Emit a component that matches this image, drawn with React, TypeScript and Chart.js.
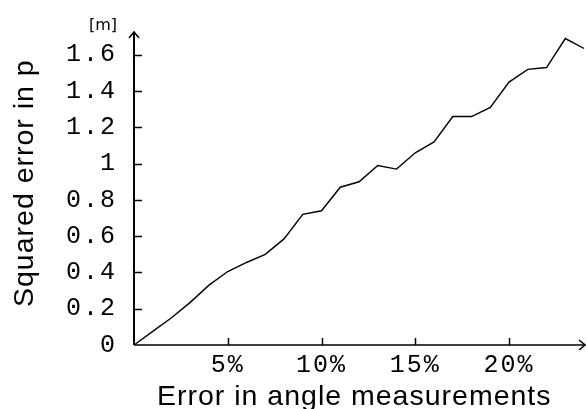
import React, { useEffect, useRef } from "react";
import { Chart, registerables } from "chart.js";

Chart.register(...registerables);

const xValues = [0, 1, 2, 3, 4, 5, 6, 7, 8, 9, 10, 11, 12, 13, 14, 15, 16, 17, 18, 19, 20, 21, 22, 23, 24];
const yValues = [0, 0.075, 0.15, 0.235, 0.33, 0.405, 0.455, 0.5, 0.585, 0.72, 0.74, 0.87, 0.9, 0.99, 0.97, 1.06, 1.12, 1.26, 1.26, 1.31, 1.45, 1.52, 1.53, 1.69, 1.635];
const xTicks = [5, 10, 15, 20];
const yTicks = [0, 0.2, 0.4, 0.6, 0.8, 1, 1.2, 1.4, 1.6];
const xTitle = "Error in angle measurements";
const yTitle = "Squared error in p";
const yUnit = "[m]";

const spacingPlugin = {
  id: "tickSpacing",
  beforeDraw(chart: any) {
    chart.ctx.letterSpacing = "2px";
  },
  beforeDatasetsDraw(chart: any) {
    chart.ctx.letterSpacing = "0px";
  },
};

const axesPlugin = {
  id: "axesArrows",
  afterDraw(chart: any) {
    const ctx = chart.ctx;
    const { left, right, top, bottom } = chart.chartArea;
    const xs = chart.scales.x;
    const ys = chart.scales.y;
    ctx.save();
    ctx.letterSpacing = "0px";
    ctx.strokeStyle = "#000";
    ctx.fillStyle = "#000";
    // y axis
    ctx.lineWidth = 2;
    ctx.beginPath();
    ctx.moveTo(left, bottom);
    ctx.lineTo(left, top);
    ctx.stroke();
    ctx.lineWidth = 1.5;
    ctx.beginPath();
    ctx.moveTo(left - 5, top + 6);
    ctx.lineTo(left, top);
    ctx.lineTo(left + 5, top + 6);
    ctx.stroke();
    // x axis
    ctx.lineWidth = 1.5;
    ctx.beginPath();
    ctx.moveTo(left, bottom);
    ctx.lineTo(right, bottom);
    ctx.stroke();
    ctx.beginPath();
    ctx.moveTo(right - 6, bottom - 5);
    ctx.lineTo(right, bottom);
    ctx.lineTo(right - 6, bottom + 5);
    ctx.stroke();
    // ticks
    ctx.lineWidth = 1.5;
    yTicks.forEach((v) => {
      if (v === 0) return;
      const py = Math.round(ys.getPixelForValue(v)) + 0.5;
      ctx.beginPath();
      ctx.moveTo(left, py);
      ctx.lineTo(left + 8, py);
      ctx.stroke();
    });
    xTicks.forEach((v) => {
      const px = Math.round(xs.getPixelForValue(v)) + 0.5;
      ctx.beginPath();
      ctx.moveTo(px, bottom);
      ctx.lineTo(px, bottom - 7);
      ctx.stroke();
    });
    // titles
    ctx.font = "28.5px 'Liberation Sans', Arial, sans-serif";
    ctx.letterSpacing = "1px";
    ctx.textAlign = "left";
    ctx.textBaseline = "alphabetic";
    ctx.fillText(xTitle, 157, 405);
    ctx.save();
    ctx.translate(33, 307);
    ctx.rotate(-Math.PI / 2);
    ctx.fillText(yTitle, 0, 0);
    ctx.restore();
    ctx.letterSpacing = "0px";
    ctx.font = "16px 'DejaVu Sans', sans-serif";
    ctx.textAlign = "right";
    ctx.fillText(yUnit, 117, 30);
    ctx.restore();
  },
};

export default function App() {
  const ref = useRef<HTMLCanvasElement>(null);
  useEffect(() => {
    document.body.style.margin = "0";
    const chart = new Chart(ref.current as HTMLCanvasElement, {
      type: "line",
      data: {
        datasets: [
          {
            data: xValues.map((x, i) => ({ x, y: yValues[i] })),
            borderColor: "#000",
            borderWidth: 1.4,
            pointRadius: 0,
            tension: 0,
            fill: false,
          },
        ],
      },
      options: {
        animation: false,
        responsive: false,
        maintainAspectRatio: false,
        layout: { padding: { top: 30, right: 1, left: 0, bottom: 0 } },
        plugins: { legend: { display: false }, tooltip: { enabled: false }, title: { display: false } },
        scales: {
          x: {
            type: "linear",
            min: 0,
            max: 24.05,
            grid: { display: false, drawTicks: false },
            border: { display: false },
            afterBuildTicks: (s: any) => {
              s.ticks = xTicks.map((v) => ({ value: v }));
            },
            afterFit: (s: any) => {
              s.height = 64;
            },
            ticks: {
              padding: 5,
              color: "#000",
              maxRotation: 0,
              autoSkip: false,
              font: { family: "'Liberation Mono', 'Courier New', monospace", size: 25 },
              callback: (v: any) => v + "%",
            },
          },
          y: {
            type: "linear",
            min: 0,
            max: 1.726,
            grid: { display: false, drawTicks: false },
            border: { display: false },
            afterBuildTicks: (s: any) => {
              s.ticks = yTicks.map((v) => ({ value: v }));
            },
            afterFit: (s: any) => {
              s.width = 134;
            },
            ticks: {
              padding: 17,
              color: "#000",
              autoSkip: false,
              font: { family: "'Liberation Mono', 'Courier New', monospace", size: 25 },
              callback: (v: any) => String(Math.round(v * 10) / 10),
            },
          },
        },
      },
      plugins: [spacingPlugin, axesPlugin],
    });
    return () => chart.destroy();
  }, []);
  return (
    <div style={{ position: "relative", width: 586, height: 409, background: "#fff" }}>
      <canvas ref={ref} width={586} height={409} style={{ display: "block", width: 586, height: 409 }} />
    </div>
  );
}
